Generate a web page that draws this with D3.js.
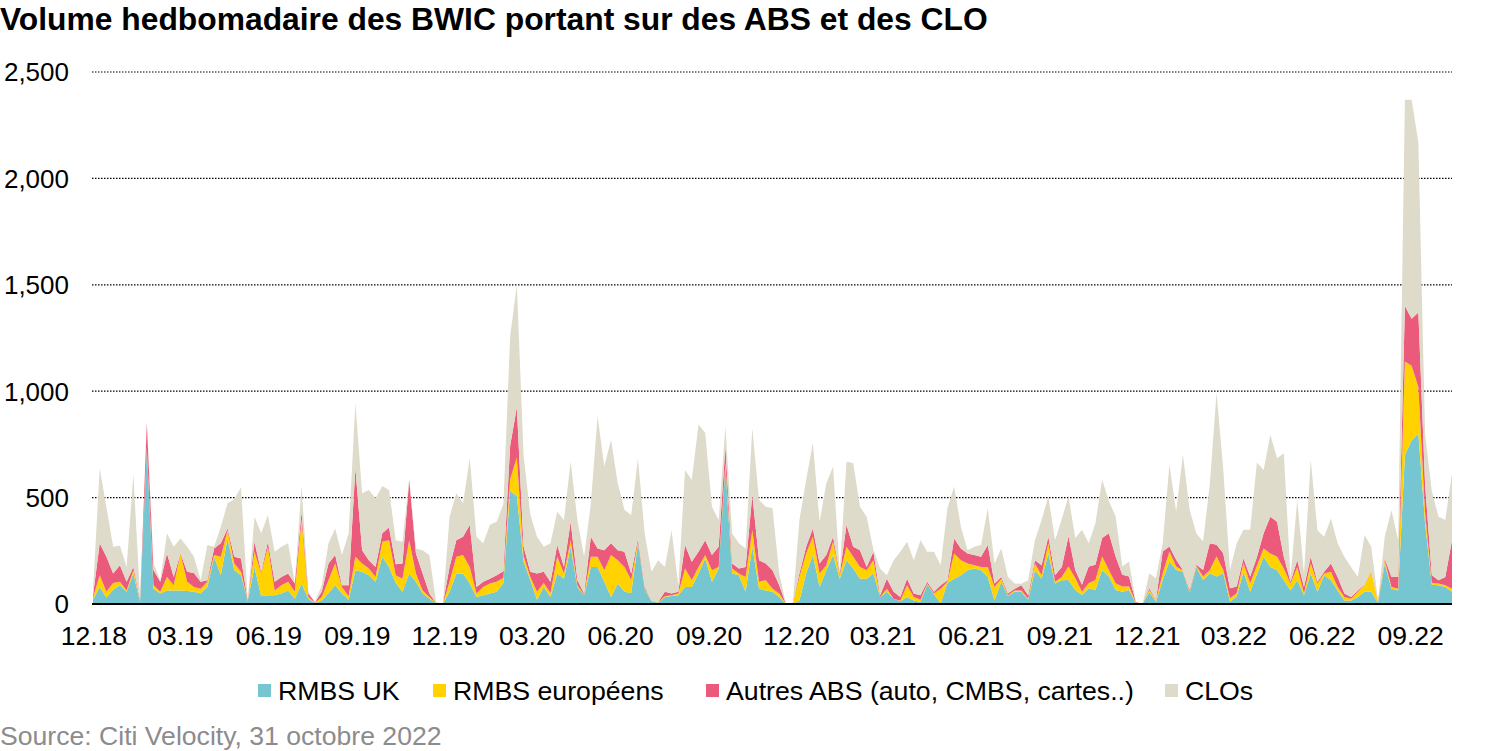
<!DOCTYPE html>
<html>
<head>
<meta charset="utf-8">
<script src="https://cdn.jsdelivr.net/npm/d3@7"></script>
<style>
  html, body { margin: 0; padding: 0; background: #fff; }
  svg { display: block; font-family: "Liberation Sans", Arial, sans-serif; }
</style>
</head>
<body>
<svg id="chart" width="1500" height="751"></svg>
<script>
// ---------------- DATA (weekly, from 30.11.2018) ----------------
const startDate = "2018-11-30";
const seriesKeys = ["uk", "eur", "autres", "clo"];
const seriesNames = ["RMBS UK", "RMBS européens", "Autres ABS (auto, CMBS, cartes..)", "CLOs"];
const tickLabels = ["12.18","03.19","06.19","09.19","12.19","03.20","06.20","09.20","12.20","03.21","06.21","09.21","12.21","03.22","06.22","09.22"];
const yTicks = [0, 500, 1000, 1500, 2000, 2500];

const uk = [20,80,30,68,88,57,143,9,730,72,49,64,64,64,61,57,49,80,222,135,
308,159,135,14,174,36,41,41,49,64,25,96,25,5,17,52,88,49,20,159,
151,135,104,222,174,99,57,143,104,49,25,3,0,57,143,143,96,33,41,49,
57,99,531,508,200,112,20,80,33,143,119,269,80,41,174,174,104,33,96,57,
52,285,68,14,6,33,38,41,80,80,143,214,104,167,646,143,135,57,269,72,
64,57,33,0,0,17,143,230,80,159,230,119,206,167,119,119,143,33,57,25,
13,33,17,9,93,46,2,99,119,135,159,167,159,127,17,104,38,57,57,20,
159,119,237,96,112,113,66,42,74,66,160,129,66,58,66,3,0,55,11,113,
200,160,152,53,173,113,145,129,145,11,35,152,58,140,222,174,159,112,64,112,
41,143,57,135,112,64,17,17,33,57,57,5,190,72,64,700,770,800,380,90,
88,80,57];

const eur = [10,55,27,31,16,7,16,4,5,16,8,63,24,170,43,23,23,24,8,87,
39,31,16,0,71,107,228,23,39,40,32,299,8,1,16,60,102,31,16,63,
39,32,23,70,126,36,62,157,39,15,8,1,0,47,79,87,78,16,39,47,
47,24,55,181,25,15,37,19,19,79,24,31,8,3,48,48,55,197,110,117,
60,7,4,2,2,3,3,8,87,32,31,16,55,7,16,24,8,70,78,32,
48,15,16,0,0,110,94,86,63,23,62,16,63,55,55,40,63,0,15,0,
2,55,16,11,3,3,70,5,118,71,31,15,15,47,63,15,3,7,7,5,
31,16,48,8,15,63,55,16,23,47,63,31,31,24,16,3,0,11,5,32,
47,16,5,5,6,16,15,94,15,16,15,40,39,40,39,63,63,55,32,62,
8,47,39,8,39,16,16,8,24,31,94,4,16,8,8,440,350,220,50,10,
8,8,15];

const autres = [10,150,165,44,78,40,15,7,115,71,47,110,39,3,47,66,32,8,31,63,
8,32,63,2,47,8,23,40,39,39,39,39,16,2,24,78,40,8,52,416,
63,39,47,40,60,52,71,283,94,79,16,1,0,70,78,86,197,31,24,23,
31,31,157,235,45,24,86,52,52,55,32,87,24,5,94,39,94,55,47,71,
31,16,8,1,1,21,8,8,110,86,71,70,71,95,78,23,24,47,165,102,
78,87,39,0,0,16,32,39,47,48,24,8,102,47,79,15,39,8,47,32,
18,31,16,21,8,8,16,8,71,55,47,48,48,103,16,8,8,8,24,16,
16,47,31,31,47,142,39,32,79,71,87,173,126,55,47,3,0,8,3,102,
23,32,3,8,5,31,126,55,79,47,32,23,32,40,71,173,165,55,8,32,
31,32,8,8,39,47,16,8,7,2,4,5,8,47,55,260,220,350,130,35,
16,39,228];

const clo = [20,353,232,126,92,70,437,5,10,31,8,95,142,71,118,76,8,165,8,78,
118,270,335,1,118,181,126,141,142,142,4,121,8,1,31,95,125,142,244,307,
267,330,323,223,176,113,102,7,24,110,181,4,0,236,220,157,314,236,181,254,
252,316,513,576,430,269,173,118,181,157,220,283,283,173,157,621,393,487,314,197,
275,377,252,134,197,117,298,31,353,385,598,503,227,126,95,142,118,87,315,283,
267,291,55,0,0,252,314,401,197,337,330,7,299,393,204,236,10,126,16,149,
212,173,157,259,141,188,94,338,244,102,16,39,55,173,94,134,78,24,7,71,
94,213,189,165,226,188,150,259,110,196,275,150,189,39,71,2,0,71,102,39,
385,227,543,377,149,134,275,715,393,86,204,134,220,445,298,385,298,487,23,283,
63,456,243,165,212,158,173,141,63,234,114,3,102,315,173,970,1030,800,240,395,
298,268,315];

const colors = { uk: "#76C6D1", eur: "#FFD200", autres: "#EC5A7B", clo: "#DEDBCB" };

// ---------------- BUILD ----------------
const parseDay = d3.timeParse("%Y-%m-%d");
const parseTick = d3.timeParse("%m.%y");
const start = parseDay(startDate);
const rows = uk.map((v, i) => ({
  date: d3.timeDay.offset(start, 7 * i),
  uk: uk[i], eur: eur[i], autres: autres[i], clo: clo[i]
}));

const svg = d3.select("#chart");
const plotLeft = 92, plotRight = 1452, plotTop = 72, plotBottom = 604;

const x = d3.scaleTime()
  .domain([rows[0].date, rows[rows.length - 1].date])
  .range([93, 1452]);
const y = d3.scaleLinear().domain([0, 2500]).range([plotBottom, plotTop]);

// Title
svg.append("text")
  .attr("x", 0).attr("y", 30)
  .attr("font-size", 31.8).attr("font-weight", "bold").attr("fill", "#000")
  .text("Volume hedbomadaire des BWIC portant sur des ABS et des CLO");

// Gridlines
svg.append("g").selectAll("line")
  .data(yTicks.filter(d => d > 0))
  .join("line")
  .attr("x1", plotLeft).attr("x2", plotRight)
  .attr("y1", d => y(d)).attr("y2", d => y(d))
  .attr("stroke", "#000").attr("stroke-width", 1.2)
  .attr("stroke-dasharray", "1.5,1.5");

// Stacked areas
const stack = d3.stack().keys(seriesKeys);
const layers = stack(rows);
const area = d3.area()
  .x(d => x(d.data.date))
  .y0(d => y(d[0]))
  .y1(d => y(d[1]));

svg.append("g").selectAll("path")
  .data(layers)
  .join("path")
  .attr("fill", d => colors[d.key])
  .attr("d", area);

// Baseline
svg.append("line")
  .attr("x1", plotLeft).attr("x2", plotRight)
  .attr("y1", y(0)).attr("y2", y(0))
  .attr("stroke", "#000").attr("stroke-width", 2);

// Y axis labels
svg.append("g").selectAll("text")
  .data(yTicks)
  .join("text")
  .attr("x", 69).attr("y", d => y(d))
  .attr("dy", "0.36em")
  .attr("text-anchor", "end")
  .attr("font-size", 26).attr("fill", "#000")
  .text(d => d3.format(",")(d));

// X axis labels
svg.append("g").selectAll("text")
  .data(tickLabels)
  .join("text")
  .attr("x", d => x(parseTick(d)))
  .attr("y", 645)
  .attr("text-anchor", "middle")
  .attr("font-size", 26.5).attr("fill", "#000")
  .text(d => d);

// Legend
const legendX = [258, 433, 706, 1165];
const lg = svg.append("g").selectAll("g")
  .data(seriesKeys)
  .join("g")
  .attr("transform", (d, i) => `translate(${legendX[i]},690)`);
lg.append("rect")
  .attr("x", 0).attr("y", -6).attr("width", 13).attr("height", 13)
  .attr("fill", d => colors[d]);
lg.append("text")
  .attr("x", 20).attr("y", 0).attr("dy", "0.36em")
  .attr("font-size", 26.7).attr("fill", "#000")
  .text((d, i) => seriesNames[i]);

// Source
svg.append("text")
  .attr("x", 0).attr("y", 745)
  .attr("font-size", 26.6).attr("fill", "#8c8c8c")
  .text("Source: Citi Velocity, 31 octobre 2022");
</script>
</body>
</html>
